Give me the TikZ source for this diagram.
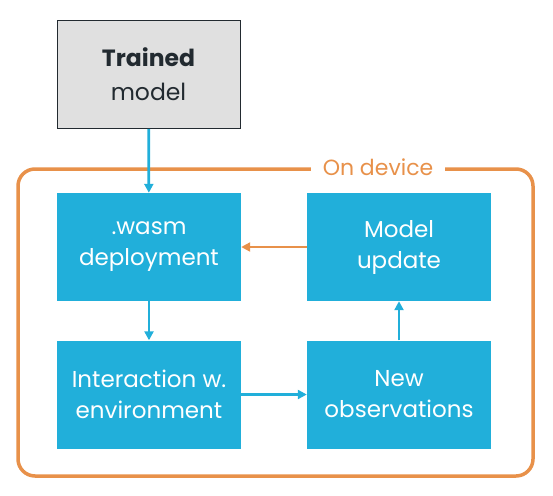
\documentclass[tikz,border=0pt]{standalone}
\usepackage{fontspec}
\setmainfont{Poppins}
\usetikzlibrary{arrows.meta}
\definecolor{boxblue}{HTML}{21AFDA}
\definecolor{frameorange}{HTML}{E8914A}
\definecolor{boxgray}{HTML}{E0E0E0}
\definecolor{darktext}{HTML}{222A30}
\begin{document}
\begin{tikzpicture}[x=1pt,y=-1pt,
  bluebox/.style={fill=boxblue, draw=none, text=white, minimum width=184pt, minimum height=108pt, align=center, inner sep=0pt, font=\fontsize{23}{31}\selectfont},
  graybox/.style={fill=boxgray, draw=darktext, line width=0.8pt, text=darktext, minimum width=183pt, minimum height=108pt, align=center, inner sep=0pt, font=\fontsize{23.5}{34}\selectfont},
  bluearrow/.style={draw=boxblue, line width=2.8pt, -{Triangle[length=9pt,width=9pt]}},
  orangearrow/.style={draw=frameorange, line width=2.8pt, -{Triangle[length=9pt,width=9pt]}},
  frame/.style={draw=frameorange, line width=3.5pt, rounded corners=17pt},
  framelabel/.style={fill=white, text=frameorange, inner xsep=12pt, inner ysep=2pt, font=\fontsize{22}{26}\selectfont}
]
\useasboundingbox (0,0) rectangle (553,495);
\draw[frame] (18,169) rectangle (533,476);
\node[framelabel] (ondevice) at (378,167) {On device};
\node[graybox] (trained) at (148.5,74.5) {\textbf{Trained}\\model};
\node[bluebox] (wasm) at (149,247) {.wasm\\deployment};
\node[bluebox] (update) at (399,247) {Model\\update};
\node[bluebox] (interact) at (149,394.5) {Interaction w.\\environment};
\node[bluebox] (newobs) at (399,394.5) {New\\observations};
\draw[bluearrow] (trained) -- (wasm);
\draw[orangearrow] (update) -- (wasm);
\draw[bluearrow] (wasm) -- (interact);
\draw[bluearrow] (interact) -- (newobs);
\draw[bluearrow] (newobs) -- (update);
\end{tikzpicture}
\end{document}
